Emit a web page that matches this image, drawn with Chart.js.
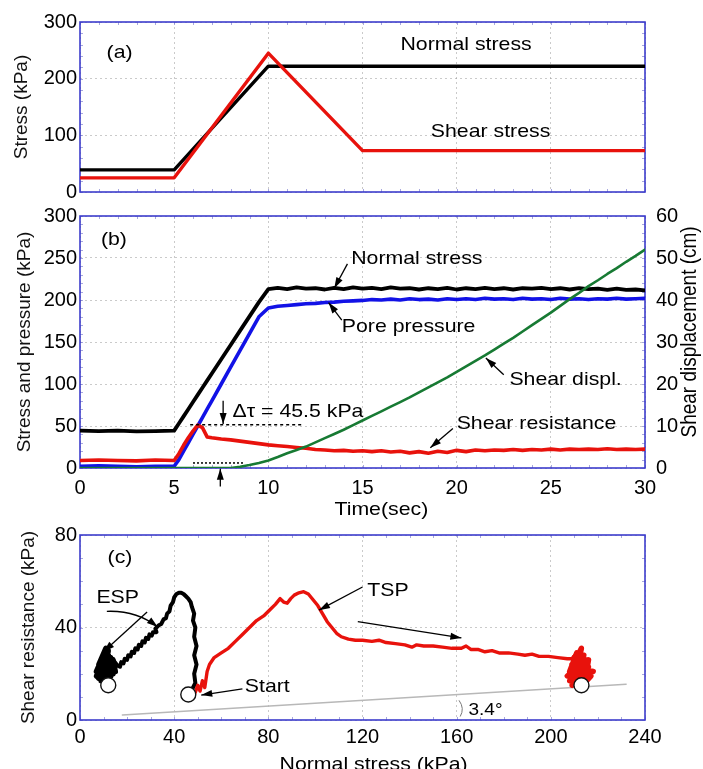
<!DOCTYPE html>
<html>
<head>
<meta charset="utf-8">
<script src="https://cdn.jsdelivr.net/npm/chart.js@4.4.1/dist/chart.umd.min.js"></script>
<style>
  html, body { margin: 0; padding: 0; background: #fff; }
  #lamina { position: relative; width: 703px; height: 769px; overflow: hidden; }
  #lamina canvas { position: absolute; left: 0; }
</style>
</head>
<body>
<div id="lamina">
  <canvas id="panelA" width="703" height="215" style="top:0px"></canvas>
  <canvas id="panelB" width="703" height="340" style="top:195px"></canvas>
  <canvas id="panelC" width="703" height="254" style="top:515px"></canvas>
</div>
<script>
// (a) programa de carga
const tiempoCargaNormal = [0, 5, 10, 30];
const cargaNormal = [39, 39, 222, 222];
const tiempoCargaCorte = [0, 5, 10, 15, 30];
const cargaCorte = [25, 25, 245, 73, 73];

// (b) respuesta medida en el tiempo
const tiempoB = [0, 1, 2, 3, 4, 5, 5.25, 5.5, 5.75, 6, 6.25, 6.5, 6.75, 7, 7.5, 8, 8.5, 9, 9.5, 10,
  10.5, 11, 11.5, 12, 12.5, 13, 13.5, 14, 14.5, 15, 15.5, 16, 16.5, 17, 17.5, 18, 18.5, 19, 19.5, 20,
  20.5, 21, 21.5, 22, 22.5, 23, 23.5, 24, 24.5, 25, 25.5, 26, 26.5, 27, 27.5, 28, 28.5, 29, 29.5, 30];
const tensionNormal = [44.5, 44, 44.5, 43.5, 44, 44.5, 53, 61.5, 70, 78.5, 87, 95.5, 104, 112.5, 129.5, 146.5, 163.5, 180.5, 197.5, 213,
  214.5, 213, 215, 213.5, 214, 212.5, 214.5, 213, 215, 213.5, 214.5, 213, 215, 213.5, 214, 212.5, 214, 213, 214.5, 212.5,
  214, 213, 214.5, 213, 214, 212.5, 214, 213.5, 214.5, 213, 214, 212.5, 214, 213, 213.5, 212, 213.5, 212, 212.5, 211.5];
const presionPoros = [2, 2.5, 2, 1.5, 2, 2, 10, 20, 30, 40, 50, 60, 70, 80, 100, 120, 140, 160, 180, 190.5,
  192.5, 193.5, 194.5, 195.5, 196, 197, 197.5, 198.5, 199, 199.5, 200.5, 200, 201, 200, 201.5, 200.5, 201, 200, 201.5, 200.5,
  201.5, 200.5, 202, 201, 201.5, 200.5, 202, 201, 201.5, 200.5, 202, 201, 201.5, 200.5, 201.5, 201, 202, 201, 201.5, 202];
const resistenciaCorte = [9, 9.5, 9, 8.5, 9.5, 9, 17, 27, 36, 44, 51, 48, 37, 36, 34.5, 33.5, 32, 30.5, 29, 27.5,
  26.5, 25.5, 24.5, 23.5, 22, 21.5, 20.5, 21, 20, 20.5, 19.5, 20.5, 19, 20, 18, 19.5, 17.5, 20, 18.5, 21,
  19.5, 21.5, 20.5, 21.5, 21, 22, 21, 22, 21.5, 22.5, 21.5, 22.5, 22, 22.5, 22, 23, 22, 22.5, 22, 22.5];
const desplazamiento = [0, 0, 0, 0, 0, 0, 0, 0, 0, 0, 0, 0, 0, 0, 0, 0, 0.3, 0.7, 1.2, 1.8,
  2.6, 3.5, 4.3, 5.1, 6.1, 7.1, 8.1, 9.1, 10.2, 11.3, 12.4, 13.5, 14.6, 15.7, 16.8, 18, 19.2, 20.4, 21.6, 22.9,
  24.2, 25.5, 26.8, 28.2, 29.6, 31, 32.5, 34, 35.5, 37, 38.6, 40.2, 41.7, 43.3, 44.7, 46.2, 47.6, 49.1, 50.5, 52];

// (c) trayectorias de tensiones: efectiva (ESP) y total (TSP)
const espX = [46, 47.5, 49, 48.5, 49.5, 48.5, 49.5, 48.5, 49, 48, 48.5, 47.5, 47, 46, 45, 44, 43, 42, 41, 40,
  39.5, 38.5, 38, 37, 36.5, 35.5, 34.5, 33.5, 33, 32, 32.5, 31, 30.5, 29.5, 29, 28, 27.5, 26.5, 26,
  25, 24.5, 23.5, 23, 22, 21.5, 20.5, 20, 19, 18.5, 17.5, 17, 16,
  14, 15, 12, 14, 11, 13, 9, 12, 10, 8, 11, 9, 13, 7, 10, 12, 8, 11, 9, 14, 10, 7, 12, 9, 13, 8, 11, 10, 12, 9, 11, 12];
const espY = [11, 13, 16, 20, 24, 28, 32, 36, 40, 43, 46, 49, 51, 52.5, 53.5, 54.5, 55, 55, 54.5, 53,
  51, 49.5, 47, 46, 44, 43.5, 41.5, 41, 40.5, 39.5, 38, 38, 36.5, 37, 35, 35.5, 33.5, 34, 32,
  32.5, 30.5, 31, 29, 29.5, 27.5, 28, 26, 26.5, 24.5, 25, 23, 23.5,
  26, 21, 28, 20, 25, 19, 23, 30, 18, 21, 27, 17, 24, 19, 26, 18, 24, 31, 20, 22, 28, 21, 20, 25, 27, 18, 22, 16.5, 24, 19, 17, 15];
const tspX = [49, 50, 51, 52, 53, 54, 55, 57, 60, 63, 66, 69, 72, 75, 78, 81, 83, 85, 86.5, 88,
  89.5, 91, 93, 95, 97, 99, 101, 103, 105, 107, 109, 111, 114, 117, 120, 124, 127, 130, 134, 138,
  141, 143, 146, 150, 154, 158, 162, 164, 166, 169, 172, 175, 178, 182, 186, 189, 192, 195, 199, 203,
  207, 209, 211, 208, 213, 210, 215, 207, 216, 211, 214, 209, 217, 212, 210, 215, 208, 213, 218, 211, 214, 216, 209, 212, 215, 213];
const tspY = [12, 15, 12.5, 17, 14, 21, 24, 27, 29, 31, 34, 37, 40, 43, 45, 48, 50, 52.5, 51, 50.5,
  52.5, 54, 55, 55.5, 54.5, 52, 49.5, 46, 42.5, 40, 37.5, 36, 35, 34.5, 34.5, 34, 34.5, 33.5, 33, 32.5,
  31.5, 32.5, 32, 32, 31.5, 31, 31, 32, 30.5, 30.5, 29.5, 30, 29, 29, 28.5, 28, 28.5, 27.5, 27.5, 27,
  26.5, 26.5, 29, 21, 31, 18, 26, 19, 23, 16, 28, 24, 19, 13.5, 27, 16, 17, 22, 21, 20, 14, 26, 15, 25, 19, 15];
const circuloX = [12, 46, 213];
const circuloY = [15, 11, 15];
const falla34X = [18, 232];
const falla34Y = [2.2, 15.5];

// desde qué punto cada trayectoria se vuelve una nube de ruido
const INICIO_NUBE_ESP = 52;
const INICIO_NUBE_TSP = 62;

const NEGRO = '#000000', ROJO = '#e8120c', AZUL = '#1212e6', VERDE = '#177a33';
const FUENTE = 'Arial, "Liberation Sans", Helvetica, sans-serif';

Chart.defaults.font.family = FUENTE;
Chart.defaults.font.size = 20;
Chart.defaults.color = '#000';

const pares = (xs, ys) => xs.map((x, i) => ({ x: x, y: ys[i] }));

const punta = (ctx, x1, y1, x2, y2) => {
  const a = Math.atan2(y2 - y1, x2 - x1);
  const largo = 11, ancho = 3.5;
  const bx = x2 - largo * Math.cos(a), by = y2 - largo * Math.sin(a);
  ctx.beginPath();
  ctx.moveTo(x2, y2);
  ctx.lineTo(bx + ancho * Math.sin(a), by - ancho * Math.cos(a));
  ctx.lineTo(bx - ancho * Math.sin(a), by + ancho * Math.cos(a));
  ctx.closePath();
  ctx.fill();
};

// marco azul y marcas menores hacia adentro
const marco = {
  id: 'marco',
  beforeDatasetsDraw(chart, args, opts) {
    const { ctx, chartArea: a, scales } = chart;
    ctx.save();
    ctx.lineWidth = 1;
    ctx.strokeStyle = 'rgba(110,110,200,0.6)';
    (opts.menores || []).forEach((m) => {
      const s = scales[m.eje];
      for (let v = s.min; v <= s.max + 1e-6; v += m.paso) {
        const p = Math.round(s.getPixelForValue(v)) + 0.5;
        const l = m.largo || 4;
        ctx.beginPath();
        if (m.eje === 'x') {
          ctx.moveTo(p, a.bottom); ctx.lineTo(p, a.bottom - l);
          ctx.moveTo(p, a.top); ctx.lineTo(p, a.top + l);
        } else if (m.lado === 'der') {
          ctx.moveTo(a.right, p); ctx.lineTo(a.right - l, p);
        } else {
          ctx.moveTo(a.left, p); ctx.lineTo(a.left + l, p);
          if (m.lado === 'ambos') { ctx.moveTo(a.right, p); ctx.lineTo(a.right - l, p); }
        }
        ctx.stroke();
      }
    });
    ctx.strokeStyle = '#3d3dcc';
    ctx.lineWidth = 1.6;
    ctx.strokeRect(a.left, a.top, a.right - a.left, a.bottom - a.top);
    ctx.restore();
  }
};

// textos, flechas y guiones ubicados en unidades de los ejes
const notas = {
  id: 'notas',
  afterDatasetsDraw(chart, args, opts) {
    const { ctx, scales } = chart;
    const aPx = (p, eje) => [scales.x.getPixelForValue(p[0]), scales[eje || 'y'].getPixelForValue(p[1])];
    ctx.save();
    ctx.fillStyle = '#000';
    ctx.strokeStyle = '#000';
    (opts.trazos || []).forEach((t) => {
      const [x1, y1] = aPx(t.desde);
      const [x2, y2] = aPx(t.hasta);
      ctx.lineWidth = 1.5;
      ctx.setLineDash(t.guion);
      ctx.beginPath(); ctx.moveTo(x1, y1); ctx.lineTo(x2, y2); ctx.stroke();
    });
    ctx.setLineDash([]);
    (opts.flechas || []).forEach((f) => {
      const [x1, y1] = aPx(f.desde);
      const [x2, y2] = aPx(f.hasta);
      ctx.lineWidth = 1.3;
      ctx.beginPath(); ctx.moveTo(x1, y1); ctx.lineTo(x2, y2); ctx.stroke();
      punta(ctx, x1, y1, x2, y2);
    });
    (opts.curvas || []).forEach((c) => {
      const [x1, y1] = aPx(c.desde);
      const [cx, cy] = aPx(c.control);
      const [x2, y2] = aPx(c.hasta);
      ctx.lineWidth = c.ancho || 1.3;
      ctx.strokeStyle = c.color || '#000';
      ctx.beginPath(); ctx.moveTo(x1, y1); ctx.quadraticCurveTo(cx, cy, x2, y2); ctx.stroke();
      if (c.punta) punta(ctx, cx, cy, x2, y2);
    });
    ctx.textBaseline = 'middle';
    (opts.textos || []).forEach((t) => {
      const [x, y] = aPx(t.en, t.eje);
      ctx.save();
      ctx.font = `${t.tam || 19}px ${FUENTE}`;
      ctx.textAlign = t.alinear || 'left';
      ctx.translate(x, y);
      if (t.giro) {
        ctx.rotate(t.giro * Math.PI / 180);
        ctx.scale(1, 1.12);
      } else {
        ctx.scale(1.12, 1);
      }
      ctx.fillText(t.texto, 0, 0);
      ctx.restore();
    });
    ctx.restore();
  }
};

const rejilla = { color: 'rgba(150,150,150,0.5)', lineWidth: 1, drawTicks: false };
const borde = { display: false, dash: [2, 3] };
const base = {
  responsive: false,
  animation: false,
  events: [],
  elements: { point: { radius: 0 }, line: { tension: 0, borderCapStyle: 'round', borderJoinStyle: 'round' } },
};

// (a)
new Chart(document.getElementById('panelA'), {
  type: 'line',
  data: {
    datasets: [
      { label: 'Shear stress', data: pares(tiempoCargaCorte, cargaCorte), borderColor: ROJO, borderWidth: 3.4 },
      { label: 'Normal stress', data: pares(tiempoCargaNormal, cargaNormal), borderColor: NEGRO, borderWidth: 3.4 }
    ]
  },
  options: {
    ...base,
    layout: { padding: { top: 22, left: 0, right: 58, bottom: 23 } },
    plugins: {
      legend: { display: false },
      tooltip: { enabled: false },
      marco: { menores: [{ eje: 'x', paso: 1, largo: 3 }, { eje: 'y', paso: 20, largo: 3, lado: 'ambos' }] },
      notas: {
        textos: [
          { texto: '(a)', en: [2.1, 245], alinear: 'center' },
          { texto: 'Normal stress', en: [20.5, 260], alinear: 'center' },
          { texto: 'Shear stress', en: [21.8, 106], alinear: 'center' }
        ]
      }
    },
    scales: {
      x: { type: 'linear', min: 0, max: 30, ticks: { stepSize: 5, display: false }, grid: rejilla, border: borde,
           afterFit: (s) => { s.height = 0; } },
      y: { type: 'linear', min: 0, max: 300, ticks: { stepSize: 100, padding: 3 }, grid: rejilla, border: borde,
           title: { display: true, text: 'Stress (kPa)', font: { size: 19 }, color: '#111', padding: { top: 10.6, bottom: 0 } },
           afterFit: (s) => { s.width = 80; } }
    }
  },
  plugins: [marco, notas]
});

// (b)
new Chart(document.getElementById('panelB'), {
  type: 'line',
  data: {
    datasets: [
      { label: 'Shear displ.', data: pares(tiempoB, desplazamiento), yAxisID: 'y2', borderColor: VERDE, borderWidth: 2.6 },
      { label: 'Shear resistance', data: pares(tiempoB, resistenciaCorte), borderColor: ROJO, borderWidth: 3.6 },
      { label: 'Pore pressure', data: pares(tiempoB, presionPoros), borderColor: AZUL, borderWidth: 3.6 },
      { label: 'Normal stress', data: pares(tiempoB, tensionNormal), borderColor: NEGRO, borderWidth: 3.8 }
    ]
  },
  options: {
    ...base,
    layout: { padding: { top: 21, left: 0, right: 0, bottom: 0 } },
    plugins: {
      legend: { display: false },
      tooltip: { enabled: false },
      marco: { menores: [{ eje: 'x', paso: 1, largo: 3 }, { eje: 'y', paso: 10, largo: 3 }, { eje: 'y2', paso: 2, largo: 3, lado: 'der' }] },
      notas: {
        trazos: [
          { desde: [5.85, 51.5], hasta: [11.9, 51.5], guion: [3, 3] },
          { desde: [6.0, 6], hasta: [8.75, 6], guion: [2, 2] }
        ],
        flechas: [
          { desde: [14.2, 243], hasta: [13.5, 214] },
          { desde: [13.9, 176], hasta: [13.2, 197] },
          { desde: [22.5, 111], hasta: [21.55, 131] },
          { desde: [19.8, 47], hasta: [18.6, 24] },
          { desde: [7.6, 80], hasta: [7.6, 52.5] },
          { desde: [7.45, -22], hasta: [7.45, -1] }
        ],
        textos: [
          { texto: '(b)', en: [1.8, 272], alinear: 'center' },
          { texto: 'Normal stress', en: [14.4, 249] },
          { texto: 'Pore pressure', en: [13.9, 168] },
          { texto: 'Shear displ.', en: [22.8, 105] },
          { texto: 'Shear resistance', en: [20.0, 53] },
          { texto: 'Δτ = 45.5 kPa', en: [8.1, 67] },
          { texto: 'Time(sec)', en: [16, -50], alinear: 'center' },
          { texto: 'Shear displacement (cm)', en: [32.4, 32.4], eje: 'y2', alinear: 'center', giro: -90 }
        ]
      }
    },
    scales: {
      x: { type: 'linear', min: 0, max: 30, ticks: { stepSize: 5, padding: 8 }, grid: rejilla, border: borde,
           afterFit: (s) => { s.height = 67; } },
      y: { type: 'linear', min: 0, max: 300, ticks: { stepSize: 50, padding: 3 }, grid: rejilla, border: borde,
           title: { display: true, text: 'Stress and pressure (kPa)', font: { size: 19 }, color: '#111', padding: { top: 13.6, bottom: 0 } },
           afterFit: (s) => { s.width = 80; } },
      y2: { type: 'linear', position: 'right', min: 0, max: 60, ticks: { stepSize: 10, padding: 3 },
            grid: { display: false }, border: { display: false },
            afterFit: (s) => { s.width = 58; } }
    }
  },
  plugins: [marco, notas]
});

// (c)
new Chart(document.getElementById('panelC'), {
  type: 'line',
  data: {
    datasets: [
      { label: 'marcas', data: pares(circuloX, circuloY), showLine: false, pointRadius: 7.5,
        pointBackgroundColor: '#ffffff', pointBorderColor: '#111', pointBorderWidth: 1.4 },
      { label: 'TSP', data: pares(tspX, tspY), borderColor: ROJO, borderWidth: 3.4,
        segment: { borderWidth: (c) => (c.p0DataIndex >= INICIO_NUBE_TSP ? 5.5 : undefined) } },
      { label: 'ESP', data: pares(espX, espY), borderColor: NEGRO, borderWidth: 4,
        segment: { borderWidth: (c) => (c.p0DataIndex >= INICIO_NUBE_ESP ? 5.5 : undefined) } },
      { label: '3.4', data: pares(falla34X, falla34Y), borderColor: '#b8b8b8', borderWidth: 1.5 }
    ]
  },
  options: {
    ...base,
    layout: { padding: { top: 20, left: 0, right: 58, bottom: 0 } },
    plugins: {
      legend: { display: false },
      tooltip: { enabled: false },
      marco: { menores: [{ eje: 'x', paso: 10, largo: 3 }, { eje: 'y', paso: 10, largo: 3, lado: 'ambos' }] },
      notas: {
        flechas: [
          { desde: [120, 57.5], hasta: [101.5, 47.5] },
          { desde: [118, 42.5], hasta: [162, 35.5] },
          { desde: [69, 13.5], hasta: [51.5, 10.8] },
          { desde: [28.5, 46.7], hasta: [10, 29.5] }
        ],
        curvas: [
          { desde: [11.4, 47], control: [24, 47.5], hasta: [33, 40.2], punta: true },
          { desde: [161, 8.5], control: [163.5, 5], hasta: [161.5, 1.5], color: '#777', ancho: 1 }
        ],
        textos: [
          { texto: '(c)', en: [17, 70], alinear: 'center' },
          { texto: 'ESP', en: [16, 53], alinear: 'center' },
          { texto: 'TSP', en: [122, 56] },
          { texto: 'Start', en: [70, 14.5] },
          { texto: '3.4°', en: [165, 4], tam: 17 },
          { texto: 'Normal stress (kPa)', en: [124.7, -19.5], alinear: 'center' }
        ]
      }
    },
    scales: {
      x: { type: 'linear', min: 0, max: 240, ticks: { stepSize: 40, padding: 5 }, grid: rejilla, border: borde,
           afterFit: (s) => { s.height = 49; } },
      y: { type: 'linear', min: 0, max: 80, ticks: { stepSize: 40, padding: 3 }, grid: rejilla, border: borde,
           title: { display: true, text: 'Shear resistance (kPa)', font: { size: 19 }, color: '#111', padding: { top: 17, bottom: 0 } },
           afterFit: (s) => { s.width = 80; } }
    }
  },
  plugins: [marco, notas]
});
</script>
</body>
</html>
